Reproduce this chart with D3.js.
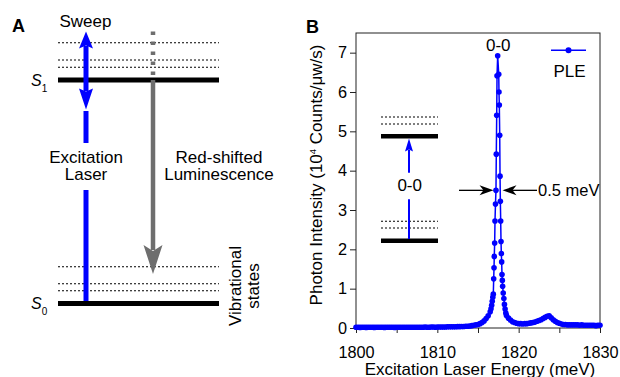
<!DOCTYPE html>
<html>
<head>
<meta charset="utf-8">
<script src="https://cdn.jsdelivr.net/npm/d3@7"></script>
<style>
  body { margin: 0; background: #fff; }
  svg { display: block; font-family: "Liberation Sans", Arial, sans-serif; }
</style>
</head>
<body>
<svg id="fig" width="620" height="377"></svg>
<script>
// PLE scan, [energy meV, intensity 10^4 counts/uW/s]
const leftTail = [
  [1800,.02],[1800.25,.02],[1800.5,.015],[1800.75,.02],[1801,.02],[1801.25,.015],[1801.5,.02],[1801.75,.02],
  [1802,.02],[1802.25,.015],[1802.5,.02],[1802.75,.02],[1803,.02],[1803.25,.02],[1803.5,.015],[1803.75,.02],
  [1804,.02],[1804.25,.02],[1804.5,.02],[1804.75,.015],[1805,.02],[1805.25,.02],[1805.5,.02],[1805.75,.02],
  [1806,.02],[1806.25,.02],[1806.5,.02],[1806.75,.02],[1807,.02],[1807.25,.02],[1807.5,.02],[1807.75,.02],
  [1808,.02],[1808.25,.02],[1808.5,.025],[1808.75,.02],[1809,.02],[1809.25,.025],[1809.5,.025],[1809.75,.02],
  [1810,.025],[1810.25,.025],[1810.5,.025],[1810.75,.025],[1811,.025],[1811.25,.03],[1811.5,.03],[1811.75,.03],
  [1812,.03],[1812.25,.03],[1812.5,.035],[1812.75,.035],[1813,.04],[1813.25,.04],[1813.5,.045],[1813.75,.045],
  [1814,.05],[1814.25,.06],[1814.5,.07],[1814.75,.08],[1815,.09],[1815.25,.11],[1815.5,.14],[1815.75,.18],
  [1816,.24],[1816.25,.31],[1816.5,.41]
];
const peakPoints = [
  [1816.6,.49],[1816.68,.58],[1816.75,.68],[1816.82,.78],[1816.88,.86],[1816.93,1.25],[1816.97,1.53],
  [1817.0,1.82],[1817.05,2.16],[1817.09,2.72],[1817.15,3.15],[1817.21,3.5],[1817.25,4.42],[1817.3,5.41],
  [1817.34,6.41],[1817.42,6.92],[1817.55,6.45],[1817.58,6.0],[1817.62,5.67],[1817.67,4.9],[1817.71,3.86],
  [1817.75,3.22],[1817.79,2.72],[1817.83,2.2],[1817.87,1.89],[1817.91,1.68],[1817.95,1.36],[1817.99,1.21],
  [1818.03,1.06],[1818.1,.89],[1818.18,.75],[1818.25,.6],[1818.33,.48],[1818.42,.38]
];
const rightTail = [
  [1818.5,.32],[1818.75,.25],[1819,.2],[1819.25,.16],[1819.5,.14],[1819.75,.12],[1820,.11],[1820.25,.11],
  [1820.5,.1],[1820.75,.11],[1821,.11],[1821.25,.12],[1821.5,.13],[1821.75,.14],[1822,.15],[1822.25,.17],
  [1822.5,.19],[1822.75,.21],[1823,.24],[1823.25,.27],[1823.5,.3],[1823.75,.31],[1824,.26],[1824.25,.21],
  [1824.5,.17],[1824.75,.14],[1825,.12],[1825.25,.1],[1825.5,.09],[1825.75,.09],[1826,.08],[1826.25,.08],
  [1826.5,.08],[1826.75,.08],[1827,.08],[1827.25,.08],[1827.5,.07],[1827.75,.08],[1828,.07],[1828.25,.07],
  [1828.5,.07],[1828.75,.07],[1829,.07],[1829.25,.07],[1829.5,.06],[1829.75,.07],[1830,.07]
];
const xTicks = [1800, 1805, 1810, 1815, 1820, 1825, 1830];
const xLabels = [1800, 1810, 1820, 1830];
const yTicks = [0, 1, 2, 3, 4, 5, 6, 7];

const blue = "#0000ff";
const gray = "#6e6e6e";
const fs = 17;
const svg = d3.select("#fig");

// arrow head pointing up (dir=-1) or down (dir=1), with notched back
function head(g, x, tip, dir, len, hw, notch, color) {
  const b = tip - dir * len;
  g.append("path")
    .attr("d", `M${x},${tip} L${x - hw},${b} L${x},${b + dir * notch} L${x + hw},${b} Z`)
    .attr("fill", color);
}
function headH(g, tip, y, dir, len, hw, notch, color) {
  const b = tip - dir * len;
  g.append("path")
    .attr("d", `M${tip},${y} L${b},${y - hw} L${b + dir * notch},${y} L${b},${y + hw} Z`)
    .attr("fill", color);
}
// two-line centred label as one text element
function label2(g, x, y, l1, l2) {
  const t = g.append("text").attr("x", x).attr("y", y).attr("font-size", fs).attr("text-anchor", "middle");
  t.append("tspan").attr("x", x).text(l1);
  t.append("tspan").attr("x", x).attr("dy", 16.8).text(l2);
}

// ---------- panel A ----------
const A = svg.append("g");
A.append("text").attr("x", 12).attr("y", 32).attr("font-size", 18).attr("font-weight", "bold").text("A");

const lvlX0 = 58, lvlX1 = 219;
[42.7, 60, 67.3, 266.7, 283.7, 290.7].forEach(y => {
  A.append("line").attr("x1", lvlX0).attr("x2", lvlX1).attr("y1", y).attr("y2", y)
    .attr("stroke", "#000").attr("stroke-width", 1.1).attr("stroke-dasharray", "2,2");
});
A.append("line").attr("x1", lvlX0).attr("x2", lvlX1).attr("y1", 80).attr("y2", 80)
  .attr("stroke", "#000").attr("stroke-width", 5);
A.append("line").attr("x1", lvlX0).attr("x2", lvlX1).attr("y1", 303.5).attr("y2", 303.5)
  .attr("stroke", "#000").attr("stroke-width", 5);

// S labels
const s1 = A.append("text").attr("x", 31).attr("y", 86).attr("font-size", 16);
s1.append("tspan").attr("font-style", "italic").text("S");
s1.append("tspan").attr("font-size", 10).attr("dy", 6).text("1");
const s0 = A.append("text").attr("x", 31).attr("y", 308.5).attr("font-size", 16);
s0.append("tspan").attr("font-style", "italic").text("S");
s0.append("tspan").attr("font-size", 10).attr("dy", 6).text("0");

// excitation laser (blue)
A.append("text").attr("x", 85.5).attr("y", 26.7).attr("font-size", fs).attr("text-anchor", "middle").text("Sweep");
A.append("line").attr("x1", 86).attr("x2", 86).attr("y1", 46).attr("y2", 91)
  .attr("stroke", blue).attr("stroke-width", 5);
head(A, 86, 31.5, -1, 17, 7, 3, blue);
head(A, 86, 109.5, 1, 21, 7, 3, blue);
A.append("line").attr("x1", 86).attr("x2", 86).attr("y1", 111).attr("y2", 143)
  .attr("stroke", blue).attr("stroke-width", 5);
A.append("line").attr("x1", 86).attr("x2", 86).attr("y1", 190).attr("y2", 301)
  .attr("stroke", blue).attr("stroke-width", 5);
label2(A, 86, 162.7, "Excitation", "Laser");

// luminescence (gray)
A.append("line").attr("x1", 153).attr("x2", 153).attr("y1", 31.5).attr("y2", 78)
  .attr("stroke", gray).attr("stroke-width", 4.5).attr("stroke-dasharray", "3.5,6.5");
A.append("line").attr("x1", 153).attr("x2", 153).attr("y1", 80).attr("y2", 250)
  .attr("stroke", gray).attr("stroke-width", 4.5);
head(A, 153, 274, 1, 29, 9.5, 6, gray);
label2(A, 219, 162.7, "Red-shifted", "Luminescence");

A.append("text").attr("transform", "translate(240.5,286) rotate(-90)").attr("font-size", fs)
  .attr("text-anchor", "middle").text("Vibrational");
A.append("text").attr("transform", "translate(258.5,286) rotate(-90)").attr("font-size", fs)
  .attr("text-anchor", "middle").text("states");

// ---------- panel B ----------
const x = d3.scaleLinear().domain([1800, 1830]).range([356, 600]);
const y = d3.scaleLinear().domain([0, 7.5]).range([328, 33]);

const B = svg.append("g");
B.append("text").attr("x", 306).attr("y", 33).attr("font-size", 18).attr("font-weight", "bold").text("B");

B.append("rect").attr("x", x(1800)).attr("y", y(7.5))
  .attr("width", x(1830) - x(1800)).attr("height", y(0) - y(7.5))
  .attr("fill", "none").attr("stroke", "#222").attr("stroke-width", 1);

const ax = B.append("g").attr("transform", `translate(0,${y(0)})`)
  .call(d3.axisBottom(x).tickValues(xTicks).tickSize(5).tickPadding(13)
    .tickFormat(d => xLabels.includes(d) ? d : ""));
const ay = B.append("g").attr("transform", `translate(${x(1800)},0)`)
  .call(d3.axisLeft(y).tickValues(yTicks).tickSize(6).tickPadding(3));
[ax, ay].forEach(a => {
  a.select(".domain").remove();
  a.selectAll(".tick line").attr("stroke", "#222");
  a.selectAll("text").attr("font-size", 16.3).attr("fill", "#000")
    .attr("font-family", "Liberation Sans, Arial, sans-serif");
});
ax.selectAll("text").attr("dy", "0.71em");

B.append("text").attr("x", 480).attr("y", 374.5).attr("font-size", fs).attr("text-anchor", "middle")
  .text("Excitation Laser Energy (meV)");
const yt = B.append("text").attr("transform", "translate(322,175) rotate(-90)")
  .attr("font-size", fs).attr("text-anchor", "middle");
yt.append("tspan").text("Photon Intensity (10");
yt.append("tspan").attr("font-size", 9.5).attr("dy", -6.5).text("4");
yt.append("tspan").attr("dy", 6.5).text(" Counts/\u03bcw/s)");

const pts = leftTail.concat(peakPoints, rightTail);
B.append("path").datum(pts)
  .attr("d", d3.line().x(d => x(d[0])).y(d => y(d[1])))
  .attr("fill", "none").attr("stroke", blue).attr("stroke-width", 1.5);
B.append("g").selectAll("circle").data(pts).join("circle")
  .attr("cx", d => x(d[0])).attr("cy", d => y(d[1])).attr("r", 2.8).attr("fill", blue);

// labels on the plot
B.append("text").attr("x", 498.3).attr("y", 50.7).attr("font-size", fs).attr("text-anchor", "middle").text("0-0");
B.append("line").attr("x1", 551).attr("x2", 586).attr("y1", 50.3).attr("y2", 50.3)
  .attr("stroke", blue).attr("stroke-width", 1.5);
B.append("circle").attr("cx", 568.5).attr("cy", 50.3).attr("r", 3).attr("fill", blue);
B.append("text").attr("x", 569.5).attr("y", 77.3).attr("font-size", fs).attr("text-anchor", "middle").text("PLE");

// FWHM arrows
const fy = y(3.5);
B.append("line").attr("x1", 459).attr("x2", 484).attr("y1", fy).attr("y2", fy).attr("stroke", "#000").attr("stroke-width", 1.3);
headH(B, 493.5, fy, 1, 14, 5, 4, "#000");
B.append("line").attr("x1", 512).attr("x2", 537).attr("y1", fy).attr("y2", fy).attr("stroke", "#000").attr("stroke-width", 1.3);
headH(B, 502.5, fy, -1, 14, 5, 4, "#000");
B.append("text").attr("x", 538).attr("y", 196).attr("font-size", 16.5).text("0.5 meV");

// inset level diagram
const ix0 = 381, ix1 = 438, ixc = 409;
[117, 124, 221.3, 228].forEach(yy => {
  B.append("line").attr("x1", ix0).attr("x2", ix1).attr("y1", yy).attr("y2", yy)
    .attr("stroke", "#000").attr("stroke-width", 1.1).attr("stroke-dasharray", "2,2");
});
[136.3, 240.7].forEach(yy => {
  B.append("line").attr("x1", ix0).attr("x2", ix1).attr("y1", yy).attr("y2", yy)
    .attr("stroke", "#000").attr("stroke-width", 4.5);
});
B.append("line").attr("x1", ixc).attr("x2", ixc).attr("y1", 150).attr("y2", 172.7)
  .attr("stroke", blue).attr("stroke-width", 2);
head(B, ixc, 138.5, -1, 13, 4, 2, blue);
B.append("line").attr("x1", ixc).attr("x2", ixc).attr("y1", 199.3).attr("y2", 239)
  .attr("stroke", blue).attr("stroke-width", 2);
B.append("text").attr("x", 409.7).attr("y", 190.7).attr("font-size", fs).attr("text-anchor", "middle").text("0-0");
</script>
</body>
</html>
